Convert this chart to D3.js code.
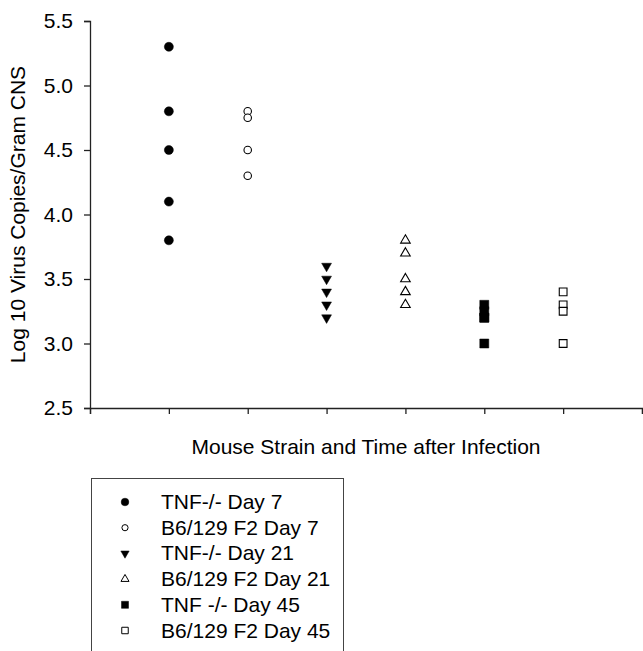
<!DOCTYPE html>
<html>
<head>
<meta charset="utf-8">
<script src="https://cdn.jsdelivr.net/npm/d3@7"></script>
<style>
  body { margin: 0; background: #fff; }
  text { font-family: Arial, "Liberation Sans", sans-serif; fill: #000; }
</style>
</head>
<body>
<svg id="chart" width="643" height="651"></svg>
<script>
// groups in plotting order (x position = index + 1)
const groups = ["TNF-/- Day 7", "B6/129 F2 Day 7", "TNF-/- Day 21", "B6/129 F2 Day 21", "TNF -/- Day 45", "B6/129 F2 Day 45"];
const tnfDay7 = [5.3, 4.8, 4.5, 4.1, 3.8];
const b6Day7 = [4.8, 4.75, 4.5, 4.3];
const tnfDay21 = [3.6, 3.5, 3.4, 3.3, 3.2];
const b6Day21 = [3.8, 3.7, 3.5, 3.4, 3.3];
const tnfDay45 = [3.3, 3.25, 3.2, 3.2, 3.0];
const b6Day45 = [3.4, 3.3, 3.25, 3.0];
const yTicks = [2.5, 3.0, 3.5, 4.0, 4.5, 5.0, 5.5];

const series = [tnfDay7, b6Day7, tnfDay21, b6Day21, tnfDay45, b6Day45];
// marker style per group: symbol, filled?, rotation, size
const markers = [
  { type: d3.symbolCircle, fill: true, rot: 0, size: 64, lsize: 46 },
  { type: d3.symbolCircle, fill: false, rot: 0, size: 44, lsize: 30 },
  { type: d3.symbolTriangle, fill: true, rot: 180, size: 42, lsize: 30 },
  { type: d3.symbolTriangle, fill: false, rot: 0, size: 40, lsize: 28 },
  { type: d3.symbolSquare, fill: true, rot: 0, size: 81, lsize: 49 },
  { type: d3.symbolSquare, fill: false, rot: 0, size: 60, lsize: 42 }
];

const svg = d3.select("#chart");
const x = d3.scaleLinear().domain([0, 7]).range([90, 642]);
const y = d3.scaleLinear().domain([2.5, 5.5]).range([408, 21]);

// axes
const xAxis = svg.append("g")
  .attr("transform", "translate(0," + y(2.5) + ")")
  .call(d3.axisBottom(x).ticks(7).tickSize(6).tickFormat(""));
const yAxis = svg.append("g")
  .attr("transform", "translate(" + x(0) + ",0)")
  .call(d3.axisLeft(y).tickValues(yTicks).tickSize(6).tickPadding(11).tickFormat(d3.format(".1f")));
[xAxis, yAxis].forEach(function (a) {
  a.select(".domain").attr("stroke", "#222").attr("stroke-width", 1.3);
  a.selectAll(".tick line").attr("stroke", "#222").attr("stroke-width", 1.3);
});
yAxis.selectAll(".tick text")
  .style("font-size", "21px")
  .style("font-family", "Arial, 'Liberation Sans', sans-serif")
  .attr("fill", "#000");

// axis titles
svg.append("text")
  .attr("x", (x(0) + x(7)) / 2)
  .attr("y", 454)
  .attr("text-anchor", "middle")
  .style("font-size", "21px")
  .text("Mouse Strain and Time after Infection");
svg.append("text")
  .attr("transform", "translate(25," + (y(2.5) + y(5.5)) / 2 + ") rotate(-90)")
  .attr("text-anchor", "middle")
  .style("font-size", "21px")
  .text("Log 10 Virus Copies/Gram CNS");

function symbolPath(m, size) {
  return d3.symbol().type(m.type).size(size)();
}

// data points
series.forEach(function (vals, gi) {
  const m = markers[gi];
  svg.append("g").selectAll("path")
    .data(vals)
    .enter()
    .append("path")
    .attr("d", symbolPath(m, m.size))
    .attr("transform", function (d) {
      return "translate(" + x(gi + 1) + "," + y(d) + ") rotate(" + m.rot + ")";
    })
    .attr("fill", m.fill ? "#000" : "#fff")
    .attr("stroke", "#000")
    .attr("stroke-width", m.fill ? 0.5 : 1.1);
});

// legend
const legend = svg.append("g");
legend.append("rect")
  .attr("x", 91.5).attr("y", 478.5)
  .attr("width", 252).attr("height", 200)
  .attr("fill", "none")
  .attr("stroke", "#444")
  .attr("stroke-width", 1);
const rows = legend.selectAll("g.row")
  .data(groups)
  .enter()
  .append("g")
  .attr("class", "row")
  .attr("transform", function (d, i) { return "translate(0," + (502 + i * 25.7) + ")"; });
rows.append("path")
  .attr("d", function (d, i) { return symbolPath(markers[i], markers[i].lsize); })
  .attr("transform", function (d, i) { return "translate(125,0) rotate(" + markers[i].rot + ")"; })
  .attr("fill", function (d, i) { return markers[i].fill ? "#000" : "#fff"; })
  .attr("stroke", "#000")
  .attr("stroke-width", function (d, i) { return markers[i].fill ? 0.5 : 1; });
rows.append("text")
  .attr("x", 161)
  .attr("y", 7)
  .style("font-size", "21px")
  .text(function (d) { return d; });
</script>
</body>
</html>
